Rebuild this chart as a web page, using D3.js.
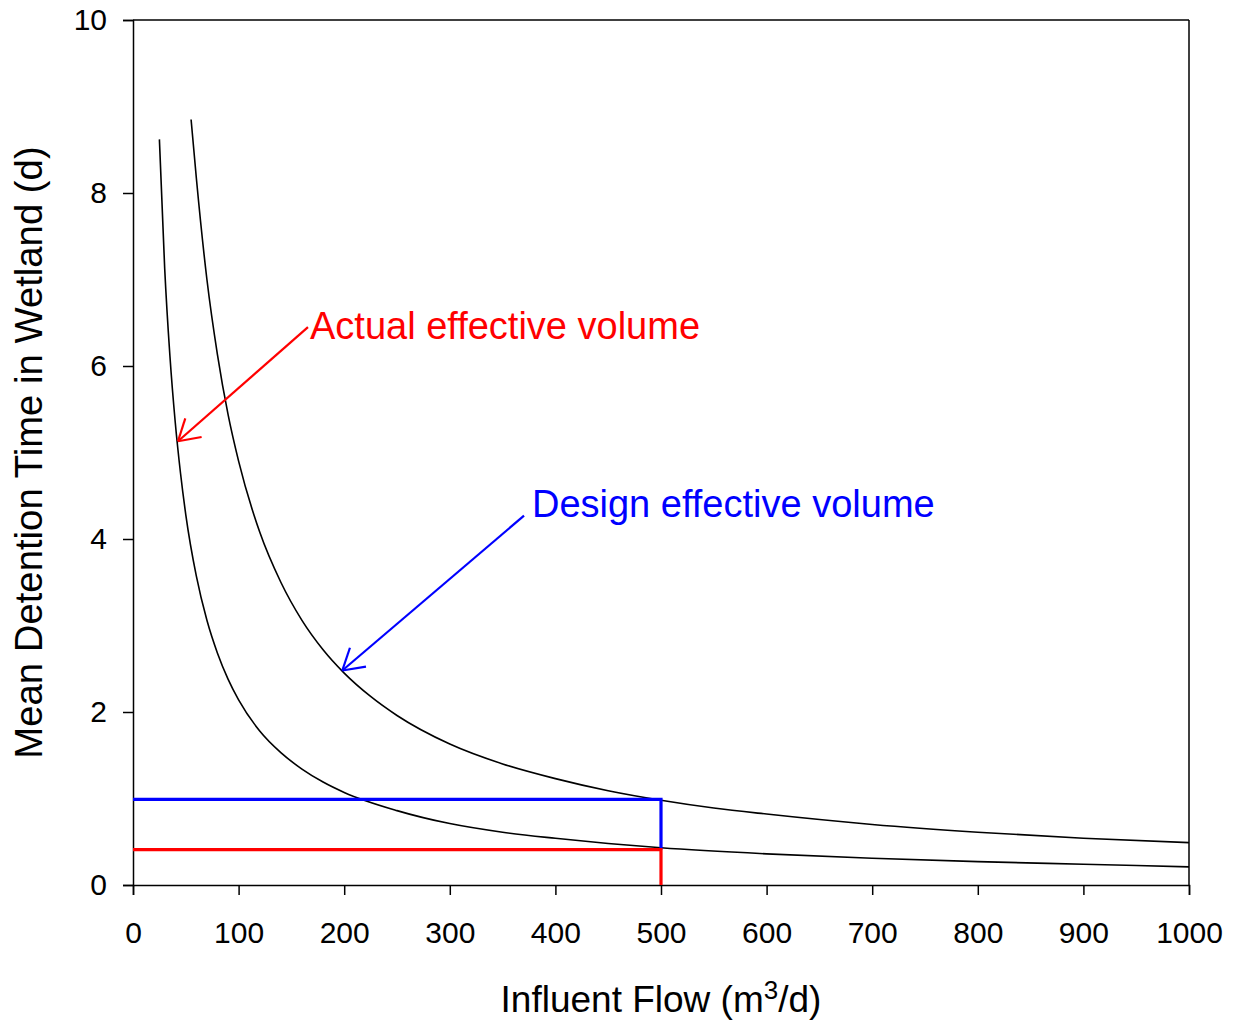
<!DOCTYPE html>
<html>
<head>
<meta charset="utf-8">
<script src="https://cdn.jsdelivr.net/npm/d3@7"></script>
<style>
  html, body { margin: 0; padding: 0; background: #fff; }
  svg { display: block; font-family: "Liberation Sans", Arial, sans-serif; }
</style>
</head>
<body>
<svg id="chart" width="1238" height="1026"></svg>
<script>
// Influent flow (m3/d) and mean detention time (d) for the design volume
const designFlow = [55, 60, 70, 80, 90, 100, 120, 140, 160, 180, 200, 225, 250, 300, 350, 400, 450, 500, 550, 600, 700, 800, 900, 1000];
const designTime = [8.85, 8.17, 7.00, 6.13, 5.44, 4.90, 4.08, 3.50, 3.06, 2.72, 2.45, 2.18, 1.96, 1.63, 1.40, 1.23, 1.09, 0.98, 0.89, 0.82, 0.70, 0.61, 0.54, 0.49];

// Same relation for the actual (reduced) effective volume
const actualFlow = [25, 30, 35, 40, 45, 50, 60, 70, 80, 90, 100, 120, 140, 160, 180, 200, 250, 300, 350, 400, 450, 500, 600, 700, 800, 900, 1000];
const actualTime = [8.62, 7.13, 6.11, 5.35, 4.76, 4.28, 3.57, 3.06, 2.68, 2.38, 2.14, 1.78, 1.53, 1.34, 1.19, 1.07, 0.86, 0.71, 0.61, 0.54, 0.48, 0.43, 0.36, 0.31, 0.27, 0.24, 0.21];

// Operating point: flow of 500 m3/d and the detention times it gives
const operatingFlow = 500;
const designOperatingTime = 0.99;
const actualOperatingTime = 0.41;

// Axis ticks
const xTicks = [0, 100, 200, 300, 400, 500, 600, 700, 800, 900, 1000];
const yTicks = [0, 2, 4, 6, 8, 10];

// Annotation labels: text anchor, arrow start and arrow tip in data units
const annotationText = ["Actual effective volume", "Design effective volume"];
const annotationColor = ["#ff0000", "#0000ff"];
const annotationTextAt = [[167.6, 6.31], [377.8, 4.25]];
const annotationFrom = [[165.7, 6.45], [370.3, 4.27]];
const annotationTo = [[42.6, 5.13], [198.2, 2.48]];

const svg = d3.select("#chart");
const plotLeft = 133, plotRight = 1189, plotTop = 20, plotBottom = 885;

const x = d3.scaleLinear().domain([0, 1000]).range([plotLeft, plotRight]);
const y = d3.scaleLinear().domain([0, 10]).range([plotBottom, plotTop]);

// Frame: top and right borders
svg.append("line").attr("x1", plotLeft).attr("x2", plotRight).attr("y1", plotTop).attr("y2", plotTop)
  .attr("stroke", "#000").attr("stroke-width", 1.5);
svg.append("line").attr("x1", plotRight).attr("x2", plotRight).attr("y1", plotTop).attr("y2", plotBottom)
  .attr("stroke", "#000").attr("stroke-width", 1.5);

// Axes
const xAxis = svg.append("g").attr("transform", `translate(0,${plotBottom})`)
  .call(d3.axisBottom(x).tickValues(xTicks).tickFormat(d3.format("d")).tickSizeOuter(0).tickSize(10).tickPadding(27));
const yAxis = svg.append("g").attr("transform", `translate(${plotLeft},0)`)
  .call(d3.axisLeft(y).tickValues(yTicks).tickFormat(d3.format("d")).tickSizeOuter(0).tickSize(10).tickPadding(16));

[xAxis, yAxis].forEach(g => {
  g.select(".domain").attr("stroke", "#000").attr("stroke-width", 1.5);
  g.selectAll(".tick line").attr("stroke", "#000").attr("stroke-width", 1.5);
  g.selectAll(".tick text").attr("fill", "#000")
    .style("font-size", "30px").style("font-family", "'Liberation Sans', Arial, sans-serif");
});
xAxis.selectAll(".tick text").attr("dy", "0.71em");

// Curves
const line = d3.line().x(d => x(d[0])).y(d => y(d[1])).curve(d3.curveMonotoneX);
const designPts = designFlow.map((q, i) => [q, designTime[i]]);
const actualPts = actualFlow.map((q, i) => [q, actualTime[i]]);

svg.append("path").datum(designPts).attr("d", line)
  .attr("fill", "none").attr("stroke", "#000").attr("stroke-width", 1.6);
svg.append("path").datum(actualPts).attr("d", line)
  .attr("fill", "none").attr("stroke", "#000").attr("stroke-width", 1.6);

// Operating point guide lines
const guide = d3.line().x(d => x(d[0])).y(d => y(d[1]));
svg.append("path")
  .datum([[0, designOperatingTime], [operatingFlow, designOperatingTime], [operatingFlow, actualOperatingTime]])
  .attr("d", guide).attr("fill", "none").attr("stroke", "#0000ff").attr("stroke-width", 3.2)
  .attr("stroke-linejoin", "miter");
svg.append("path")
  .datum([[0, actualOperatingTime], [operatingFlow, actualOperatingTime], [operatingFlow, 0]])
  .attr("d", guide).attr("fill", "none").attr("stroke", "#ff0000").attr("stroke-width", 3.2)
  .attr("stroke-linejoin", "miter");

// Annotations with open arrowheads
annotationText.forEach((label, i) => {
  const color = annotationColor[i];
  const x0 = x(annotationFrom[i][0]), y0 = y(annotationFrom[i][1]);
  const x1 = x(annotationTo[i][0]), y1 = y(annotationTo[i][1]);
  const g = svg.append("g").attr("stroke", color).attr("stroke-width", 2.2).attr("fill", "none");
  g.append("line").attr("x1", x0).attr("y1", y0).attr("x2", x1).attr("y2", y1);
  const ang = Math.atan2(y0 - y1, x0 - x1);
  const len = 24, spread = 31 * Math.PI / 180;
  [ang - spread, ang + spread].forEach(a => {
    g.append("line").attr("x1", x1).attr("y1", y1)
      .attr("x2", x1 + len * Math.cos(a)).attr("y2", y1 + len * Math.sin(a));
  });
  svg.append("text")
    .attr("x", x(annotationTextAt[i][0])).attr("y", y(annotationTextAt[i][1]))
    .attr("fill", color).style("font-size", "38px")
    .text(label);
});

// Axis titles
const xTitle = svg.append("text")
  .attr("x", (plotLeft + plotRight) / 2).attr("y", 1012)
  .attr("text-anchor", "middle").style("font-size", "37px").attr("fill", "#000");
xTitle.append("tspan").text("Influent Flow (m");
xTitle.append("tspan").attr("dy", -13).style("font-size", "26px").text("3");
xTitle.append("tspan").attr("dy", 13).text("/d)");

svg.append("text")
  .attr("transform", `translate(42,${(plotTop + plotBottom) / 2}) rotate(-90)`)
  .attr("text-anchor", "middle").style("font-size", "38.3px").attr("fill", "#000")
  .text("Mean Detention Time in Wetland (d)");
</script>
</body>
</html>
